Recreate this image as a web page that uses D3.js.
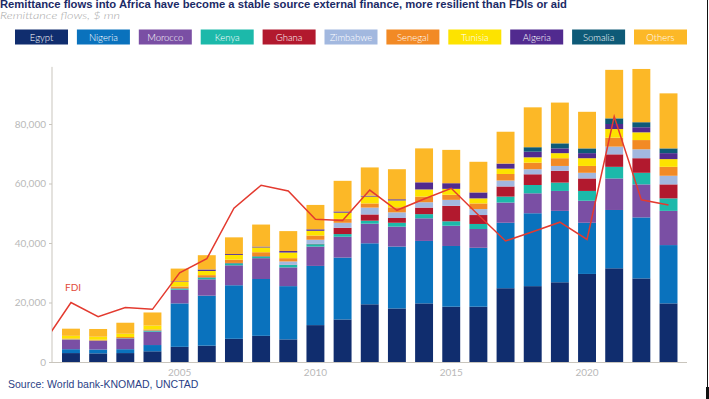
<!DOCTYPE html>
<html>
<head>
<meta charset="utf-8">
<script src="https://cdn.jsdelivr.net/npm/d3@7"></script>
<style>
	body { margin: 0; background: #fff; }
	svg { display: block; font-family: "Lato", "Liberation Sans", sans-serif; }
</style>
</head>
<body>
<div id="chart"></div>
<script>
// remittance flows, $ mn, 2001-2023
let years = d3.range(2001, 2024);
let countries = ["Egypt", "Nigeria", "Morocco", "Kenya", "Ghana", "Zimbabwe", "Senegal", "Tunisia", "Algeria", "Somalia", "Others"];
let colors = ["#102d6e", "#0a72bd", "#7a4fa4", "#1cb9aa", "#b2192e", "#a2b8df", "#f28a25", "#fde300", "#512a8f", "#0e5a77", "#fcb827"];

let egypt    = [3000, 2900, 3000, 3600, 5100, 5500, 7800, 8800, 7600, 12400, 14300, 19400, 18000, 19700, 18600, 18600, 24800, 25500, 26800, 29600, 31500, 28100, 19700];
let nigeria  = [1300, 1300, 1300, 2100, 14600, 16800, 18000, 19100, 17900, 19900, 20800, 20500, 20800, 21000, 20400, 19800, 22000, 24500, 24000, 17200, 19600, 20500, 19600];
let morocco  = [3200, 2900, 3600, 4500, 4600, 5500, 6700, 7000, 6300, 6500, 7000, 6600, 6700, 7600, 6800, 6300, 6800, 6700, 6700, 7400, 10600, 11100, 11500];
let kenya    = [100, 100, 100, 350, 400, 600, 700, 600, 800, 800, 900, 1000, 1300, 1400, 1500, 1700, 2000, 2800, 2800, 3300, 3900, 3900, 4200];
let ghana    = [0, 0, 0, 50, 100, 100, 100, 100, 100, 100, 2100, 2100, 1600, 2200, 5200, 3000, 3400, 3600, 4000, 4200, 4200, 4900, 4700];
let zimbabwe = [0, 0, 0, 0, 0, 0, 0, 0, 1100, 1400, 1700, 2300, 1900, 1800, 2000, 2000, 2000, 1700, 1600, 1900, 2600, 3000, 2900];
let senegal  = [300, 300, 400, 350, 600, 700, 1100, 1300, 1100, 1400, 1300, 1400, 1700, 1900, 1700, 1900, 2200, 2200, 2600, 2300, 3000, 3100, 3000];
let tunisia  = [900, 1000, 1100, 1300, 1500, 1400, 1600, 1600, 1900, 1600, 2100, 2300, 2300, 2400, 2000, 1700, 1800, 1800, 1700, 2600, 2900, 2600, 2600];
let algeria  = [0, 0, 0, 0, 200, 500, 300, 300, 500, 500, 400, 300, 400, 2400, 1900, 2000, 1700, 1900, 1600, 1700, 1700, 1700, 2000];
let somalia  = [0, 0, 0, 0, 0, 0, 0, 0, 0, 0, 0, 0, 0, 0, 0, 0, 0, 1500, 1700, 1600, 1900, 1700, 1600];
let others   = [2400, 2600, 3700, 4400, 4300, 4800, 5600, 7400, 6700, 8200, 10300, 9500, 10100, 11400, 11200, 10300, 10700, 13400, 13700, 12300, 16300, 17900, 18500];

// FDI inflows into Africa, $ mn, 2000-2023
let fdiYears = d3.range(2000, 2024);
let fdi = [6500, 20000, 15200, 18300, 17700, 30000, 34700, 51700, 59400, 57500, 48000, 47600, 57800, 51000, 54800, 58400, 49400, 40700, 43800, 47000, 41200, 82500, 54500, 52800];

let yTicks = [0, 20000, 40000, 60000, 80000];
let xLabels = [2005, 2010, 2015, 2020];

let W = 709, H = 399;
let series = [egypt, nigeria, morocco, kenya, ghana, zimbabwe, senegal, tunisia, algeria, somalia, others];

let table = years.map(function (yr, i) {
	let row = { year: yr };
	countries.forEach(function (c, k) { row[c] = series[k][i]; });
	return row;
});

let svg = d3.select("#chart").append("svg")
	.attr("width", W)
	.attr("height", H);

// title block
svg.append("text")
	.attr("x", 0).attr("y", 7.5)
	.attr("textLength", 567).attr("lengthAdjust", "spacingAndGlyphs")
	.style("font-family", "Liberation Sans, sans-serif")
	.style("font-size", "10px").style("font-weight", "bold")
	.attr("fill", "#1b2a66")
	.text("Remittance flows into Africa have become a stable source external finance, more resilient than FDIs or aid");

svg.append("text")
	.attr("x", 0).attr("y", 18.5)
	.attr("textLength", 120).attr("lengthAdjust", "spacingAndGlyphs")
	.style("font-size", "9.5px").style("font-style", "italic").style("font-weight", 300)
	.attr("fill", "#a9a9a9")
	.text("Remittance flows, $ mn");

// legend
let legend = svg.append("g").selectAll("g")
	.data(countries)
	.enter().append("g")
	.attr("transform", function (d, i) { return "translate(" + (15 + i * 61.9) + ",29.5)"; });

legend.append("rect")
	.attr("width", 53)
	.attr("height", 15)
	.attr("fill", function (d, i) { return colors[i]; });

legend.append("text")
	.attr("x", 26.5).attr("y", 11)
	.attr("text-anchor", "middle")
	.style("font-size", "9.5px").style("font-weight", 300)
	.attr("fill", "#fff")
	.text(function (d) { return d; });

// scales
let x = d3.scaleBand()
	.domain(years)
	.range([57.4, 682.1])
	.paddingInner(0.34)
	.paddingOuter(0.17);

let y = d3.scaleLinear()
	.domain([0, 100000])
	.range([362, 64.5]);

let color = d3.scaleOrdinal().domain(countries).range(colors);

// axes
let yAxis = svg.append("g")
	.attr("transform", "translate(52,0)")
	.call(d3.axisLeft(y).tickValues(yTicks).tickFormat(d3.format(",")).tickSize(3).tickPadding(3));
yAxis.select(".domain").remove();
yAxis.selectAll("line").attr("stroke", "#c9c5bd");
yAxis.selectAll("text")
	.style("font-size", "10px").style("font-family", "Lato, sans-serif")
	.attr("fill", "#b9b9b9");

svg.append("line")
	.attr("x1", 52).attr("x2", 52)
	.attr("y1", y(0)).attr("y2", y(99200))
	.attr("stroke", "#c9c5bd").attr("stroke-width", 1);

let xAxis = svg.append("g")
	.attr("transform", "translate(0," + y(0) + ")")
	.call(d3.axisBottom(x).tickValues(xLabels).tickSize(0).tickPadding(7));
xAxis.select(".domain").remove();
xAxis.selectAll("text")
	.style("font-size", "10px").style("font-family", "Lato, sans-serif")
	.attr("fill", "#b9b9b9");

// stacked bars
let stack = d3.stack().keys(countries)(table);

svg.append("g").selectAll("g")
	.data(stack)
	.enter().append("g")
	.attr("fill", function (d) { return color(d.key); })
	.selectAll("rect")
	.data(function (d) { return d; })
	.enter().append("rect")
	.attr("x", function (d) { return x(d.data.year); })
	.attr("y", function (d) { return y(d[1]); })
	.attr("width", x.bandwidth())
	.attr("height", function (d) { return y(d[0]) - y(d[1]); });

svg.append("line")
	.attr("x1", 52).attr("x2", 687)
	.attr("y1", y(0) + 0.5).attr("y2", y(0) + 0.5)
	.attr("stroke", "#c9c5bd").attr("stroke-width", 1.2);

// FDI line
function cx(yr) {
	return x(2001) + x.bandwidth() / 2 + (yr - 2001) * x.step();
}

svg.append("clipPath").attr("id", "plot")
	.append("rect").attr("x", 52).attr("y", 0).attr("width", 640).attr("height", 362);

let line = d3.line()
	.x(function (d, i) { return cx(fdiYears[i]); })
	.y(function (d) { return y(d); });

svg.append("path")
	.datum(fdi)
	.attr("clip-path", "url(#plot)")
	.attr("d", line)
	.attr("fill", "none")
	.attr("stroke", "#e33a2f")
	.attr("stroke-width", 1.5);

svg.append("text")
	.attr("x", 65).attr("y", 291)
	.style("font-size", "10px")
	.attr("fill", "#e24a3b")
	.text("FDI");

// source
svg.append("text")
	.attr("x", 8).attr("y", 388)
	.style("font-family", "Liberation Sans, sans-serif")
	.style("font-size", "10.5px")
	.attr("fill", "#2b3f86")
	.text("Source: World bank-KNOMAD, UNCTAD");

// frame edge on the right
svg.append("line")
	.attr("x1", 707.5).attr("x2", 707.5)
	.attr("y1", 0).attr("y2", 387)
	.attr("stroke", "#111").attr("stroke-width", 1);
svg.append("rect")
	.attr("x", 706).attr("y", 387).attr("width", 3).attr("height", 12)
	.attr("fill", "#111");
</script>
</body>
</html>
